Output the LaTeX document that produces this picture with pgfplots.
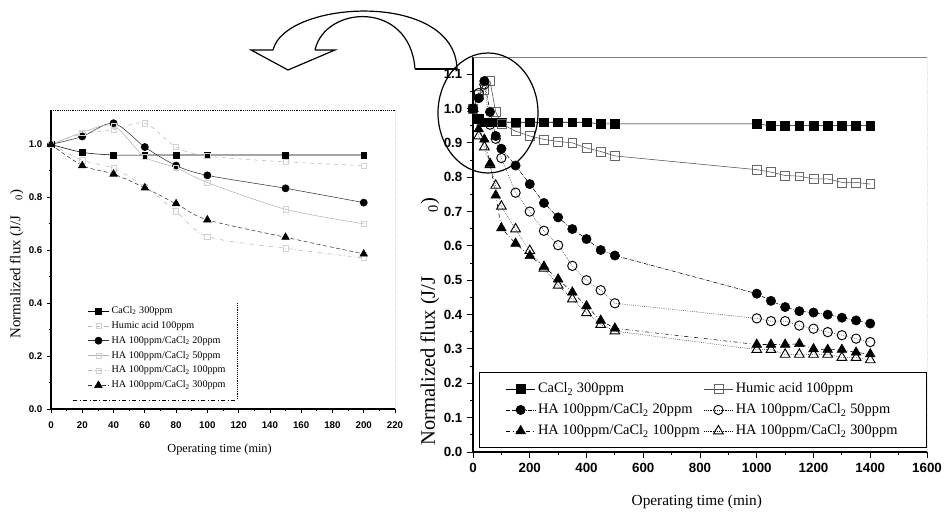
\documentclass[border=0pt]{standalone}
\usepackage{fontspec}
\setmainfont{Liberation Serif}
\newfontfamily\ticksans{Liberation Sans}
\usepackage{pgfplots}
\usepackage{pgfplotstable}
\pgfplotsset{compat=1.18}

% normalized flux J/J0 vs operating time (min)
\pgfplotstableread{
t f
0 1.00
20 0.97
40 0.96
60 0.96
80 0.96
100 0.96
150 0.96
200 0.96
250 0.96
300 0.96
350 0.96
400 0.96
450 0.955
500 0.955
1000 0.955
1050 0.95
1100 0.95
1150 0.95
1200 0.95
1250 0.95
1300 0.95
1350 0.95
1400 0.95
}\cacl
\pgfplotstableread{
t f
0 1.00
20 1.04
40 1.055
60 1.08
80 0.99
100 0.956
150 0.934
200 0.92
250 0.91
300 0.904
350 0.90
400 0.885
450 0.875
500 0.862
1000 0.822
1050 0.815
1100 0.805
1150 0.803
1200 0.795
1250 0.795
1300 0.785
1350 0.785
1400 0.78
}\humic
\pgfplotstableread{
t f
0 1.00
20 1.03
40 1.08
60 0.99
80 0.92
100 0.883
150 0.834
200 0.78
250 0.725
300 0.683
350 0.649
400 0.62
450 0.588
500 0.572
1000 0.461
1050 0.44
1100 0.422
1150 0.41
1200 0.406
1250 0.40
1300 0.391
1350 0.383
1400 0.374
}\haA
\pgfplotstableread{
t f
0 1.00
20 1.045
40 1.07
60 0.953
80 0.912
100 0.856
150 0.755
200 0.70
250 0.644
300 0.602
350 0.542
400 0.50
450 0.471
500 0.433
1000 0.389
1050 0.381
1100 0.381
1150 0.368
1200 0.359
1250 0.349
1300 0.34
1350 0.33
1400 0.32
}\haB
\pgfplotstableread{
t f
0 1.00
20 0.94
40 0.91
60 0.84
80 0.747
100 0.652
150 0.607
200 0.571
250 0.54
300 0.503
350 0.465
400 0.425
450 0.383
500 0.36
1000 0.313
1050 0.313
1100 0.313
1150 0.315
1200 0.30
1250 0.298
1300 0.298
1350 0.29
1400 0.285
}\haC
\pgfplotstableread{
t f
0 1.00
20 0.92
40 0.888
60 0.836
80 0.776
100 0.715
150 0.649
200 0.586
250 0.535
300 0.485
350 0.445
400 0.405
450 0.371
500 0.352
1000 0.298
1050 0.298
1100 0.284
1150 0.284
1200 0.284
1250 0.284
1300 0.275
1350 0.275
1400 0.268
}\haD

\begin{document}
\begin{tikzpicture}
\useasboundingbox (0,0) rectangle (708pt,-384.75pt);

% small panel (0-200 min)
\begin{axis}[
  at={(38.25pt,-306.75pt)}, anchor=south west,
  scale only axis, width=258pt, height=224.25pt,
  xmin=0, xmax=220, ymin=0, ymax=1.13,
  axis x line=bottom, axis y line=left, axis line style={-, line width=0.8pt},
  xtick distance=20, ytick={0,0.2,...,1.0}, minor x tick num=1, minor y tick num=1,
  tick align=outside, major tick length=3pt, minor tick length=1.6pt,
  tick style={black, line width=0.6pt},
  /pgf/number format/assume math mode=true,
  tick label style={font=\ticksans\bfseries\fontsize{7.3}{8}\selectfont},
  xticklabel style={yshift=-3pt},
  yticklabel style={/pgf/number format/fixed, /pgf/number format/fixed zerofill, /pgf/number format/precision=1},
  xlabel={Operating time (min)}, ylabel={Normalized flux (J/J\hspace{1em}\textsubscript{0})},
  xlabel style={font=\fontsize{9.2}{10}\selectfont, at={(axis description cs:0.49,-0.137)}, anchor=center},
  ylabel style={font=\fontsize{11.2}{12}\selectfont, at={(axis description cs:-0.10,0.485)}, anchor=center},
  restrict x to domain=0:200,
  legend cell align=left,
  legend image code/.code={\draw[mark repeat=2,mark phase=2] plot coordinates {(0cm,0cm) (0.27cm,0cm) (0.54cm,0cm)};},
  legend style={at={(rel axis cs:0.064,0.362)}, anchor=north west, draw=none, fill=none,
    font=\fontsize{7.6}{8}\selectfont, row sep=0.4pt, inner xsep=11pt},
]
\addplot[black, thin, smooth, mark=square*, mark size=2.2pt] table {\cacl};
\addplot[gray!55, dashed, smooth, mark=square, mark size=2pt, mark options={solid, gray!35}] table {\humic};
\addplot[black!80, thin, smooth, mark=*, mark size=2.7pt, mark options={black}] table {\haA};
\addplot[gray!60, smooth, mark=square, mark size=2pt, mark options={gray!35}] table {\haB};
\addplot[gray!60, dash dot, smooth, mark=square, mark size=2pt, mark options={solid, gray!35}] table {\haC};
\addplot[black!80, thin, densely dashed, smooth, mark=triangle*, mark size=3.3pt, mark options={solid, black}] table {\haD};
\legend{CaCl\textsubscript{2} 300ppm, Humic acid 100ppm, HA 100ppm/CaCl\textsubscript{2} 20ppm,
  HA 100ppm/CaCl\textsubscript{2} 50ppm, HA 100ppm/CaCl\textsubscript{2} 100ppm, HA 100ppm/CaCl\textsubscript{2} 300ppm}
\draw[densely dotted, thin] (rel axis cs:0,1) -- (rel axis cs:1,1) -- (rel axis cs:1,0);
\end{axis}

% full run (0-1400 min)
\begin{axis}[
  at={(354.75pt,-339pt)}, anchor=south west,
  scale only axis, width=340.5pt, height=296.25pt,
  xmin=0, xmax=1600, ymin=0, ymax=1.15,
  axis x line=bottom, axis y line=left, axis line style={-, line width=1pt},
  xtick distance=200, ytick={0,0.1,...,1.1}, minor x tick num=1, minor y tick num=1,
  tick align=outside, major tick length=4.5pt, minor tick length=2.2pt,
  tick style={black, line width=0.7pt},
  /pgf/number format/assume math mode=true,
  tick label style={font=\ticksans\bfseries\fontsize{10}{12}\selectfont},
  yticklabel style={/pgf/number format/fixed, /pgf/number format/fixed zerofill, /pgf/number format/precision=1},
  xticklabel style={/pgf/number format/1000 sep={}},
  xlabel={Operating time (min)}, ylabel={Normalized flux (J/J\hspace{3.1em}\textsubscript{0})},
  xlabel style={font=\fontsize{11.5}{13}\selectfont, at={(axis description cs:0.493,-0.127)}, anchor=center},
  ylabel style={font=\fontsize{15.4}{16}\selectfont, at={(axis description cs:-0.095,0.33)}, anchor=center},
  legend columns=2, legend cell align=left,
  legend image code/.code={\draw[mark repeat=2,mark phase=2] plot coordinates {(0cm,0cm) (0.38cm,0cm) (0.76cm,0cm)};},
  legend style={at={(rel axis cs:0.013,0.203)}, anchor=north west, draw=black, line width=0.6pt,
    font=\fontsize{10.8}{11.5}\selectfont, row sep=2.8pt, inner xsep=20pt, inner ysep=6pt,
    /tikz/every even column/.append style={column sep=1pt}},
  mark size=3.5pt,
]
\addplot[black, thin, mark=square*, mark size=3.3pt] table {\cacl};
\addplot[black!70, thin, mark=square, mark size=3.3pt, mark options={fill=white, draw=black!60, thin}] table {\humic};
\addplot[black, thin, densely dash dot, mark=*, mark options={solid}] table {\haA};
\addplot[black, thin, densely dotted, mark=o, mark options={solid, fill=white, line width=0.7pt}] table {\haB};
\addplot[black, thin, dash dot, mark=triangle*, mark size=4.2pt, mark options={solid}] table {\haC};
\addplot[black, thin, densely dotted, mark=triangle, mark size=4.2pt, mark options={solid, fill=white, line width=0.7pt}] table {\haD};
\legend{CaCl\textsubscript{2} 300ppm, Humic acid 100ppm, HA 100ppm/CaCl\textsubscript{2} 20ppm,
  HA 100ppm/CaCl\textsubscript{2} 50ppm, HA 100ppm/CaCl\textsubscript{2} 100ppm, HA 100ppm/CaCl\textsubscript{2} 300ppm}
\draw[gray, thin] (rel axis cs:0,1) -- (rel axis cs:1,1);
\draw[densely dotted, thin] (rel axis cs:1,1) -- (rel axis cs:1,0);
\end{axis}

% curved arrow and zoom ellipse, in image pixel units
\begin{scope}[x=0.75pt, y=-0.75pt, line width=0.9pt]
\draw (273,50) .. controls (285,0) and (455,-10) .. (457,69);
\draw (315,50) .. controls (325,5) and (410,0) .. (415,69);
\draw (273,50) -- (251,50) -- (288,70) -- (335,50) -- (315,50);
\draw (415,69) -- (457,69);
\draw (488,113) ellipse [x radius=50, y radius=60];
\draw[thin, densely dotted] (237,303) -- (237,400);
\draw[thin, dash dot] (73,400) -- (237,400);
\end{scope}
\end{tikzpicture}
\end{document}
